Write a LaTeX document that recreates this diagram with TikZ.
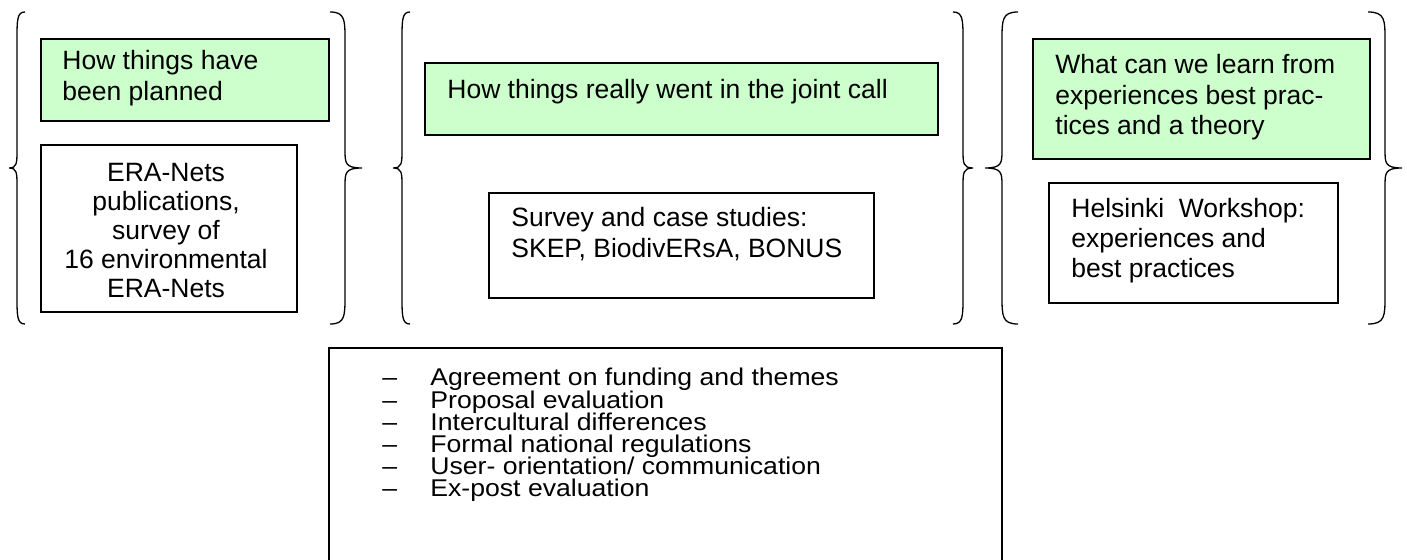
\documentclass[tikz,border=0pt]{standalone}
\usepackage{fontspec}
\setmainfont{Liberation Sans}
\newfontfamily\listfont[FakeStretch=1.1]{Liberation Sans}
\usetikzlibrary{fit}
\definecolor{boxgreen}{RGB}{204,255,204}

% stacked lines with a fixed baseline distance; the box baseline is the first line
\newcommand\leftlines[2]{\vtop{\baselineskip=#1\relax\lineskiplimit=-\maxdimen\lineskip=0pt\halign{##\hfil\cr#2\crcr}}}
\newcommand\centerlines[2]{\vtop{\baselineskip=#1\relax\lineskiplimit=-\maxdimen\lineskip=0pt\halign{\hfil##\hfil\cr#2\crcr}}}

% curly brace: #1 end x, #2 stem x, #3 tip x
\newcommand\curlybrace[3]{\draw[bracestyle] (#1,12) .. controls (#2,12) and (#2,20) .. (#2,40) -- (#2,150) .. controls (#2,163) and (#2,168) .. (#3,168) .. controls (#2,168) and (#2,173) .. (#2,186) -- (#2,296) .. controls (#2,316) and (#2,324) .. (#1,324);}

\begin{document}
\begin{tikzpicture}[x=0.5pt, y=-0.5pt,
  greenbox/.style={draw=black, fill=boxgreen, line width=0.75pt, inner sep=0pt},
  whitebox/.style={draw=black, fill=white, line width=0.75pt, inner sep=0pt},
  bracestyle/.style={draw=black, line width=0.65pt},
  boxtext/.style={inner sep=0pt, font=\fontsize{13.25}{15.5}\selectfont},
  listtext/.style={inner sep=0pt, anchor=base west, font=\listfont\fontsize{12.1}{11.1}\selectfont}]
\useasboundingbox (0,0) rectangle (1407,560);
\clip (0,0) rectangle (1407,560);

% braces around the three columns
\curlybrace{25}{17}{9}
\curlybrace{330}{345}{362}
\curlybrace{410}{402}{393}
\curlybrace{953}{963}{973}
\curlybrace{1018}{1002}{985}
\curlybrace{1368}{1385}{1402}

% first column
\node[greenbox, fit={(41,39) (329,121)}] (g1) {};
\node[boxtext, anchor=base west] (g1t) at (62,70)
  {\leftlines{15.5pt}{How things have\cr been planned}};
\node[whitebox, fit={(41,145) (297,312)}] (w1) {};
\node[boxtext, anchor=base] (w1t) at (166,182)
  {\centerlines{14.4pt}{ERA-Nets\cr publications,\cr survey of\cr 16 environmental\cr ERA-Nets}};

% second column
\node[greenbox, fit={(425,63) (938,135)}] (g2) {};
\node[boxtext, anchor=base west] (g2t) at (447,99) {How things really went in the joint call};
\node[whitebox, fit={(489,193) (874,298)}] (w2) {};
\node[boxtext, anchor=base west] (w2t) at (511,227)
  {\leftlines{15.5pt}{Survey and case studies:\cr SKEP, BiodivERsA, BONUS}};

% third column
\node[greenbox, fit={(1033,39) (1370,159)}] (g3) {};
\node[boxtext, anchor=base west] (g3t) at (1055,74)
  {\leftlines{15.25pt}{What can we learn from\cr experiences best prac-\cr tices and a theory}};
\node[whitebox, fit={(1049,183) (1338,303)}] (w3) {};
\node[boxtext, anchor=base west] (w3t) at (1071,218)
  {\leftlines{15pt}{Helsinki~ Workshop:\cr experiences and\cr best practices}};

% list of themes below
\node[whitebox, fit={(329,348) (1002,640)}] (list) {};
\node[listtext] (dashes) at (382,386)
  {\leftlines{11.1pt}{\textendash\cr \textendash\cr \textendash\cr \textendash\cr \textendash\cr \textendash}};
\node[listtext] (items) at (430,386)
  {\leftlines{11.1pt}{Agreement on funding and themes\cr
   Proposal evaluation\cr
   Intercultural differences\cr
   Formal national regulations\cr
   User- orientation/ communication\cr
   Ex-post evaluation}};
\end{tikzpicture}
\end{document}
